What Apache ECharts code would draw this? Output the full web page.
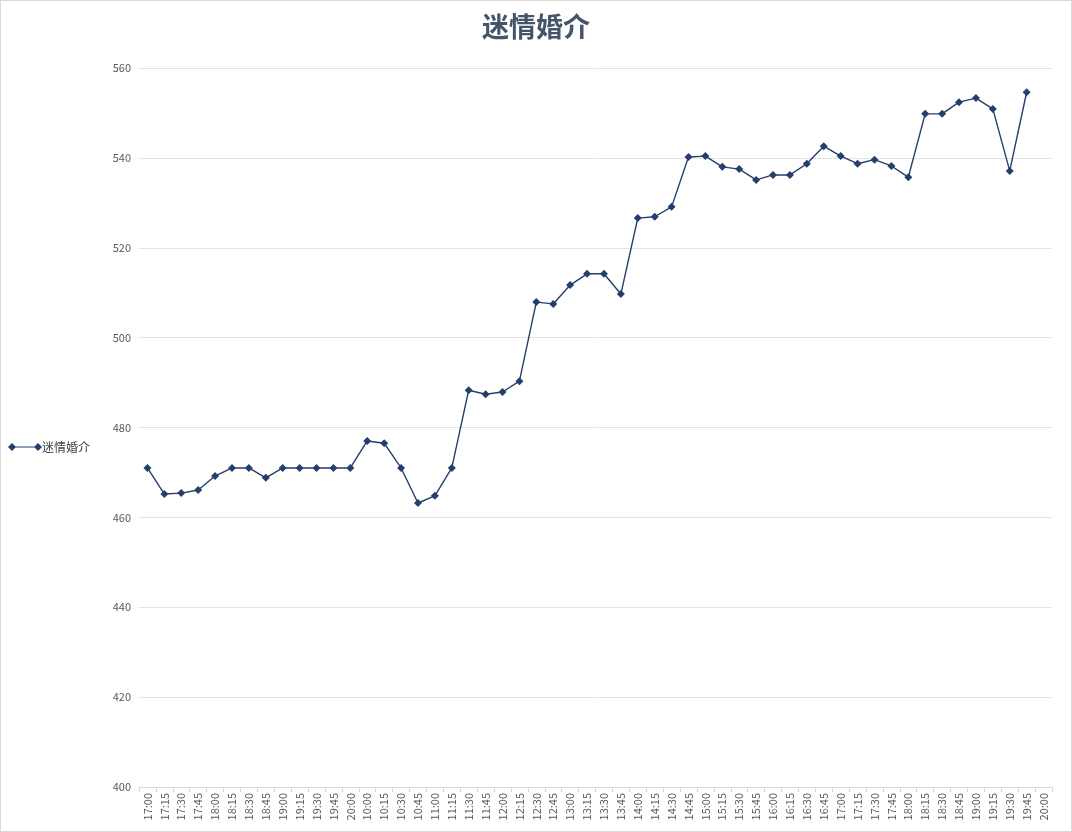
<!DOCTYPE html>
<html>
<head>
<meta charset="utf-8">
<title>迷情婚介</title>
<script src="https://cdn.jsdelivr.net/npm/echarts@6/dist/echarts.min.js"></script>
<style>
  html, body { margin: 0; padding: 0; background: #fff; }
  #chart { width: 1070px; height: 830px; border: 1px solid #d9d9d9; }
</style>
</head>
<body>
<div id="chart"></div>
<script>
// 时间（横轴）
var times = [
  '17:00','17:15','17:30','17:45','18:00','18:15','18:30','18:45','19:00','19:15','19:30','19:45','20:00',
  '10:00','10:15','10:30','10:45','11:00','11:15','11:30','11:45','12:00','12:15','12:30','12:45',
  '13:00','13:15','13:30','13:45','14:00','14:15','14:30','14:45','15:00','15:15','15:30','15:45',
  '16:00','16:15','16:30','16:45','17:00','17:15','17:30','17:45','18:00','18:15','18:30','18:45',
  '19:00','19:15','19:30','19:45','20:00'
];

// 迷情婚介 数值
var values = [
  471, 465.2, 465.4, 466.1, 469.2, 471, 471, 468.8, 471, 471, 471, 471, 471,
  477, 476.5, 471, 463.2, 464.8, 471, 488.3, 487.4, 487.9, 490.3, 507.9, 507.5,
  511.7, 514.2, 514.2, 509.7, 526.6, 526.9, 529.1, 540.2, 540.4, 538, 537.5, 535.1,
  536.2, 536.2, 538.7, 542.6, 540.4, 538.7, 539.6, 538.2, 535.7, 549.8, 549.8, 552.4,
  553.3, 550.9, 537.1, 554.6, null
];

var seriesName = '迷情婚介';

var myChart = echarts.init(document.getElementById('chart'));

var textColor = '#595959';
var navy = '#233f6e';

var option = {
  backgroundColor: '#fff',
  textStyle: {
    fontFamily: '"Noto Sans CJK SC", "Noto Sans", sans-serif'
  },
  title: {
    text: seriesName,
    left: 'center',
    top: 7,
    textStyle: {
      fontSize: 27,
      fontWeight: 'bold',
      color: '#44546a',
      fontFamily: '"Noto Sans CJK SC", sans-serif'
    }
  },
  legend: {
    orient: 'vertical',
    left: 2,
    top: 435,
    itemWidth: 34,
    itemHeight: 8,
    itemGap: 4,
    icon: 'path://M0,4 L4,0 L8,4 L4,8 Z M4,3.4 L30,3.4 L30,4.6 L4,4.6 Z M26,4 L30,0 L34,4 L30,8 Z',
    textStyle: {
      fontSize: 12,
      color: '#404040',
      padding: [0, 0, 0, -5]
    },
    data: [seriesName]
  },
  grid: {
    left: 138,
    right: 19,
    top: 67,
    bottom: 44,
    containLabel: false
  },
  xAxis: {
    type: 'category',
    boundaryGap: true,
    data: times,
    axisLine: { lineStyle: { color: '#d9d9d9' } },
    axisTick: { show: true, alignWithLabel: false, length: 5, lineStyle: { color: '#d9d9d9' } },
    axisLabel: {
      interval: 0,
      rotate: 90,
      fontSize: 11,
      color: textColor,
      margin: 6
    }
  },
  yAxis: {
    type: 'value',
    min: 400,
    max: 560,
    interval: 20,
    axisLine: { show: false },
    axisTick: { show: false },
    axisLabel: {
      fontSize: 11,
      color: textColor,
      margin: 8
    },
    splitLine: { lineStyle: { color: '#e3e3e3' } }
  },
  series: [
    {
      name: seriesName,
      type: 'line',
      data: values,
      symbol: 'diamond',
      symbolSize: 8,
      showAllSymbol: true,
      connectNulls: false,
      lineStyle: { color: navy, width: 1.4 },
      itemStyle: { color: navy },
      emphasis: { disabled: true }
    }
  ],
  animation: false
};

myChart.setOption(option);
</script>
</body>
</html>
